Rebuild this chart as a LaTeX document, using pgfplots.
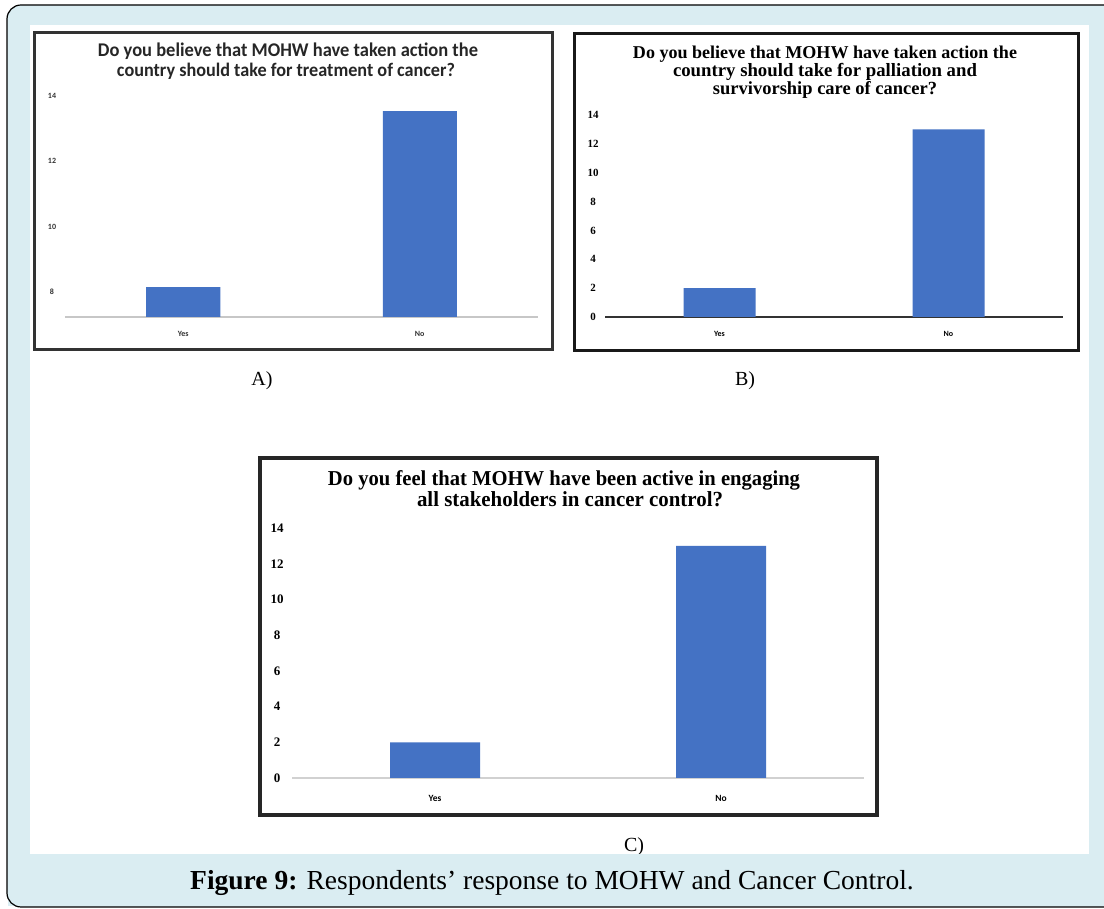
\documentclass[border=0pt]{standalone}
\usepackage{fontspec}
\setmainfont{Liberation Serif}
\newfontfamily\carlito{Carlito}
\usepackage{pgfplots}
\pgfplotsset{compat=1.18}
\definecolor{barblue}{HTML}{4472C4}
\definecolor{bgblue}{HTML}{DAEDF2}
\pgfplotsset{
  qbar/.style={
    scale only axis, anchor=south west,
    ybar, enlargelimits=false,
    xmin=-0.5, xmax=1.5,
    xtick={0,1}, xticklabels={Yes,No},
    axis x line*=bottom, axis y line*=left,
    y axis line style={draw=none},
    major tick length=0pt,
    /pgf/number format/assume math mode=true,
    xticklabel style={anchor=center},
    yticklabel style={anchor=center},
  }
}
\begin{document}
\begin{tikzpicture}
\useasboundingbox (0pt,0pt) rectangle (1104pt,909pt);
\begin{scope}
\clip (0pt,0pt) rectangle (1104pt,909pt);
\fill[bgblue, rounded corners=14pt] (7pt,2pt) rectangle (1130pt,904pt);
\fill[white] (30pt,55pt) rectangle (1089pt,884pt);

% ---------- Chart A ----------
\draw[black!80, line width=3pt] (34pt,559pt) rectangle (552pt,876pt);
\begin{axis}[qbar, at={(65pt,592pt)}, width=473pt, height=221pt,
  ymin=7.24, ymax=14, ytick={8,10,12,14}, bar width=74pt,
  x axis line style={draw=black!22, line width=1.5pt},
  yticklabel style={xshift=-13pt, font=\carlito\bfseries\fontsize{8}{9}\selectfont, text=black!80},
  xticklabel style={yshift=-17pt, font=\carlito\bfseries\fontsize{8}{9}\selectfont, text=black!80}]
\addplot[fill=barblue, draw=none] coordinates {(0,8.15) (1,13.54)};
\end{axis}
\node[anchor=base, text=black!85] at (288pt,852pt) {\scalebox{1}[1.05]{\resizebox{380pt}{!}{\carlito\bfseries Do you believe that MOHW have taken action the}}};
\node[anchor=base, text=black!85] at (286pt,832pt) {\scalebox{1}[1.05]{\resizebox{338pt}{!}{\carlito\bfseries country should take for treatment of cancer?}}};

% ---------- Chart B ----------
\draw[black!90, line width=3pt] (574pt,558pt) rectangle (1078pt,875pt);
\begin{axis}[qbar, at={(605pt,592pt)}, width=458pt, height=202pt,
  ymin=0, ymax=14, ytick={0,2,...,14}, bar width=72pt,
  x axis line style={draw=black!80, line width=1.5pt},
  yticklabel style={xshift=-12pt, font=\bfseries\fontsize{11}{12}\selectfont},
  xticklabel style={yshift=-17pt, font=\carlito\bfseries\fontsize{8}{9}\selectfont}]
\addplot[fill=barblue, draw=none] coordinates {(0,2) (1,13)};
\end{axis}
\node[anchor=base] at (825pt,850pt) {\resizebox{384pt}{!}{\bfseries Do you believe that MOHW have taken action the}};
\node[anchor=base] at (825pt,832pt) {\resizebox{304pt}{!}{\bfseries country should take for palliation and}};
\node[anchor=base] at (825pt,814pt) {\resizebox{224pt}{!}{\bfseries survivorship care of cancer?}};

% ---------- Chart C ----------
\draw[black!85, line width=3.5pt] (260pt,94pt) rectangle (877pt,451pt);
\begin{axis}[qbar, at={(292pt,131pt)}, width=572pt, height=250pt,
  ymin=0, ymax=14, ytick={0,2,...,14}, bar width=90pt,
  x axis line style={draw=black!18, line width=2pt},
  yticklabel style={xshift=-15pt, font=\bfseries\fontsize{13}{14}\selectfont},
  xticklabel style={yshift=-20pt, font=\carlito\bfseries\fontsize{9.5}{10}\selectfont}]
\addplot[fill=barblue, draw=none] coordinates {(0,2) (1,13)};
\end{axis}
\node[anchor=base] at (564pt,423pt) {\scalebox{1}[1.03]{\resizebox{472pt}{!}{\bfseries Do you feel that MOHW have been active in engaging}}};
\node[anchor=base] at (570pt,402pt) {\scalebox{1}[1.03]{\resizebox{306pt}{!}{\bfseries all stakeholders in cancer control?}}};

% ---------- panel labels ----------
\node[font=\fontsize{20}{22}\selectfont] at (262pt,528pt) {A)};
\node[font=\fontsize{20}{22}\selectfont] at (745pt,528pt) {B)};
\node[font=\fontsize{20}{22}\selectfont] at (634pt,62pt) {C)};

% caption band overlay
\fill[bgblue] (8pt,3pt) rectangle (1104pt,55pt);
\node[anchor=base] at (552pt,19pt) {\fontsize{27.5}{30}\selectfont\textbf{Figure 9:} Respondents’ response to MOHW and Cancer Control.};
\draw[black, line width=1.2pt, rounded corners=14pt] (7pt,2pt) rectangle (1130pt,904pt);
\end{scope}
\end{tikzpicture}
\end{document}
